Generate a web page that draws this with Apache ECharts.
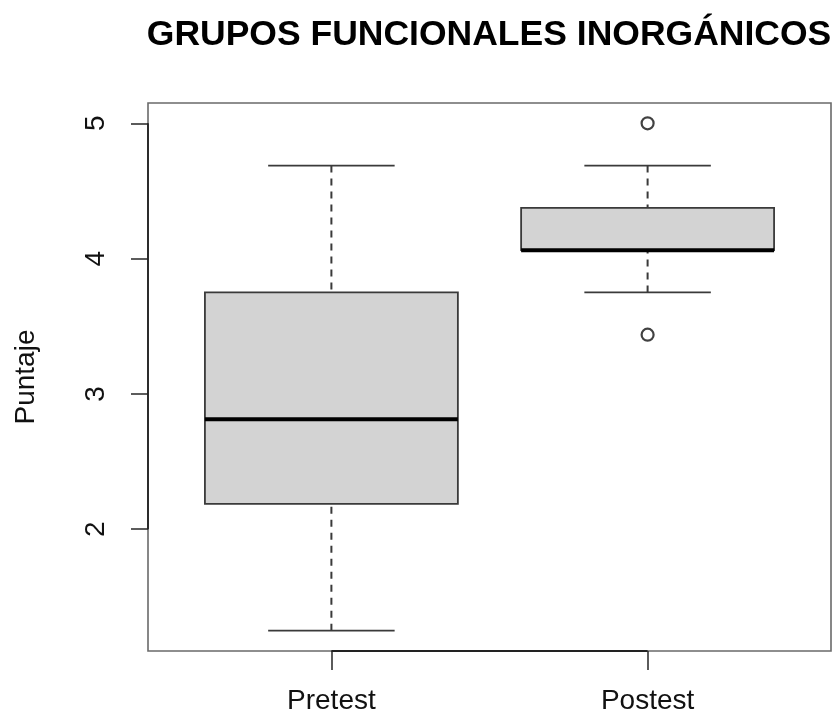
<!DOCTYPE html>
<html>
<head>
<meta charset="utf-8">
<script src="https://cdn.jsdelivr.net/npm/echarts@6/dist/echarts.min.js"></script>
<style>
  html, body { margin: 0; padding: 0; background: #fff; }
  #chart { width: 833px; height: 717px; }
</style>
</head>
<body>
<div id="chart"></div>
<script>
!function(){
	'use strict';

	// boxplot stats (scores in steps of 5/16)
	var categories = ['Pretest', 'Postest'];
	var lowWhisker = [1.25, 3.75];
	var q1 = [2.1875, 4.0625];
	var median = [2.8125, 4.0625];
	var q3 = [3.75, 4.375];
	var highWhisker = [4.6875, 4.6875];
	var outliers = [[2, 5], [2, 3.4375]];
	var yTicks = [2, 3, 4, 5];
	var xTicks = [1, 2];

	var font = '"Liberation Sans", Arial, sans-serif';
	var lineCol = '#3a3a3a';

	var boxData = categories.map(function(c, i){
		return [i + 1, lowWhisker[i], q1[i], median[i], q3[i], highWhisker[i]];
	});

	function renderBox(params, api){
		var x = api.value(0);
		var lo = api.coord([x, api.value(1)]);
		var b1 = api.coord([x - 0.4, api.value(2)]);
		var b2 = api.coord([x + 0.4, api.value(4)]);
		var med = api.value(3);
		var m1 = api.coord([x - 0.4, med]);
		var m2 = api.coord([x + 0.4, med]);
		var hi = api.coord([x, api.value(5)]);
		var boxTop = api.coord([x, api.value(4)]);
		var boxBot = api.coord([x, api.value(2)]);
		var capL = api.coord([x - 0.2, 0])[0];
		var capR = api.coord([x + 0.2, 0])[0];
		var dash = { stroke: lineCol, lineWidth: 2, lineDash: [7, 6] };
		var solid = { stroke: lineCol, lineWidth: 1.8 };
		return {
			type: 'group',
			children: [
				{ type: 'line', shape: { x1: hi[0], y1: hi[1], x2: boxTop[0], y2: boxTop[1] }, style: dash },
				{ type: 'line', shape: { x1: lo[0], y1: lo[1], x2: boxBot[0], y2: boxBot[1] }, style: dash },
				{ type: 'line', shape: { x1: capL, y1: hi[1], x2: capR, y2: hi[1] }, style: solid },
				{ type: 'line', shape: { x1: capL, y1: lo[1], x2: capR, y2: lo[1] }, style: solid },
				{ type: 'rect', shape: { x: b1[0], y: b2[1], width: b2[0] - b1[0], height: b1[1] - b2[1] },
					style: { fill: '#d3d3d3', stroke: lineCol, lineWidth: 1.8 } },
				{ type: 'line', shape: { x1: m1[0], y1: m1[1], x2: m2[0], y2: m2[1] },
					style: { stroke: '#000', lineWidth: 4 } }
			]
		};
	}

	// R draws the axis line only between the first and last tick
	function renderAxes(params, api){
		var a = api.coord([0.42, yTicks[0]]);
		var b = api.coord([0.42, yTicks[yTicks.length - 1]]);
		var c = api.coord([xTicks[0], 1.1]);
		var d = api.coord([xTicks[xTicks.length - 1], 1.1]);
		var st = { stroke: '#222', lineWidth: 1.8 };
		return {
			type: 'group',
			children: [
				{ type: 'line', shape: { x1: a[0], y1: a[1], x2: b[0], y2: b[1] }, style: st },
				{ type: 'line', shape: { x1: c[0], y1: c[1], x2: d[0], y2: d[1] }, style: st }
			]
		};
	}

	var chart = echarts.init(document.getElementById('chart'));
	chart.setOption({
		animation: false,
		backgroundColor: '#fff',
		title: {
			text: 'GRUPOS FUNCIONALES INORGÁNICOS',
			left: 484,
			textAlign: 'center',
			top: 12,
			textStyle: { fontFamily: font, fontSize: 35.5, fontWeight: 'bold', color: '#000' }
		},
		grid: {
			left: 148, right: 2, top: 103, bottom: 66,
			show: true, borderColor: '#6a6a6a', borderWidth: 1.6, backgroundColor: 'transparent'
		},
		xAxis: {
			type: 'value',
			min: 0.42, max: 2.58,
			splitLine: { show: false },
			axisLine: { show: false },
			axisTick: { show: true, customValues: xTicks, length: 19, lineStyle: { color: '#333', width: 1.6 } },
			axisLabel: {
				customValues: xTicks, margin: 36,
				fontFamily: font, fontSize: 28, color: '#111',
				formatter: function(v){ return categories[Math.round(v) - 1] || ''; }
			}
		},
		yAxis: {
			type: 'value',
			min: 1.1, max: 5.15,
			name: 'Puntaje',
			nameLocation: 'middle',
			nameRotate: 90,
			nameGap: 108,
			nameTextStyle: { fontFamily: font, fontSize: 28, color: '#111' },
			splitLine: { show: false },
			axisLine: { show: false },
			axisTick: { show: true, customValues: yTicks, length: 17, lineStyle: { color: '#333', width: 1.6 } },
			axisLabel: {
				customValues: yTicks, rotate: 90, margin: 38,
				fontFamily: font, fontSize: 28, color: '#111'
			}
		},
		series: [
			{ type: 'custom', renderItem: renderBox, data: boxData, clip: false, z: 2 },
			{ type: 'custom', renderItem: renderAxes, data: [[1, 2]], clip: false, z: 3 },
			{
				type: 'scatter', data: outliers, symbol: 'circle', symbolSize: 12, z: 4,
				itemStyle: { color: '#fff', borderColor: '#111', borderWidth: 2.2 }
			}
		]
	});
}()
</script>
</body>
</html>
